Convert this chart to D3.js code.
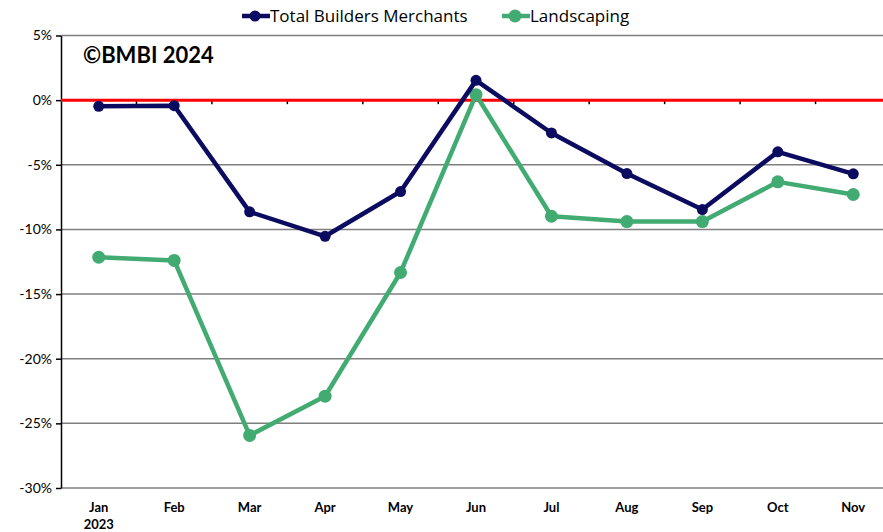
<!DOCTYPE html>
<html>
<head>
<meta charset="utf-8">
<script src="https://cdn.jsdelivr.net/npm/d3@7"></script>
<style>
  body { margin: 0; background: #fff; }
  svg { display: block; font-family: Lato, "Open Sans", sans-serif; }
</style>
</head>
<body>
<svg id="chart" width="883" height="532"></svg>
<script>
const months = ["Jan", "Feb", "Mar", "Apr", "May", "Jun", "Jul", "Aug", "Sep", "Oct", "Nov"];
const totalMerchants = [-0.48, -0.43, -8.64, -10.53, -7.07, 1.53, -2.54, -5.68, -8.46, -4.0, -5.7];
const landscaping = [-12.15, -12.4, -25.93, -22.9, -13.33, 0.42, -8.98, -9.39, -9.39, -6.32, -7.3];
const yTicks = [5, 0, -5, -10, -15, -20, -25, -30];

const margin = { top: 35.5, left: 61, bottom: 44, right: -8 };
const svgWidth = 883, svgHeight = 532;
const width = svgWidth - margin.left - margin.right,
  height = svgHeight - margin.top - margin.bottom;

const svg = d3.select("#chart");
const g = svg.append("g").attr("transform", "translate(" + margin.left + "," + margin.top + ")");

const x = d3.scaleBand().domain(months).range([0, width]);
const y = d3.scaleLinear().domain([-30, 5]).range([height, 0]);

// gridlines
g.selectAll(".grid").data(yTicks.filter(d => d !== 0)).enter().append("line")
  .attr("x1", 0).attr("x2", width)
  .attr("y1", d => y(d)).attr("y2", d => y(d))
  .attr("stroke", "#7f7f7f").attr("stroke-width", 1.5);

// y axis
const yAxis = g.append("g").call(d3.axisLeft(y).tickValues(yTicks).tickFormat(d => d + "%").tickSize(5).tickSizeOuter(0));
yAxis.select(".domain").attr("stroke", "#000").attr("stroke-width", 1.5);
yAxis.selectAll(".tick line").attr("stroke", "#000").attr("stroke-width", 1.5);
yAxis.selectAll("text").attr("font-size", 14).attr("fill", "#000").attr("x", -9)
  .attr("font-family", "Lato, sans-serif");

// x axis ticks on zero line
const bounds = months.slice(1).map(m => x(m)).concat([width]);
g.selectAll(".xtick").data(bounds).enter().append("line")
  .attr("x1", d => d).attr("x2", d => d)
  .attr("y1", y(0)).attr("y2", y(0) + 4)
  .attr("stroke", "#000").attr("stroke-width", 1.5);

// zero line
g.append("line").attr("x1", 0).attr("x2", width)
  .attr("y1", y(0)).attr("y2", y(0))
  .attr("stroke", "#ff0000").attr("stroke-width", 3);

// month labels
g.selectAll(".xl").data(months).enter().append("text")
  .attr("x", d => x(d) + x.bandwidth() / 2)
  .attr("y", height + 24)
  .attr("text-anchor", "middle")
  .attr("font-size", 13).attr("font-weight", "bold").attr("fill", "#000")
  .text(d => d);
g.append("text").attr("x", x("Jan") + x.bandwidth() / 2).attr("y", height + 41)
  .attr("text-anchor", "middle").attr("font-size", 13).attr("font-weight", "bold")
  .text("2023");

const series = [
  { name: "Total Builders Merchants", values: totalMerchants, color: "#0b0b60", r: 5.5, w: 4.5 },
  { name: "Landscaping", values: landscaping, color: "#41ab72", r: 6.5, w: 4.5 }
];

const line = d3.line().x((d, i) => x(months[i]) + x.bandwidth() / 2).y(d => y(d));

series.slice().reverse().forEach(s => {
  g.append("path").datum(s.values).attr("d", line)
    .attr("fill", "none").attr("stroke", s.color).attr("stroke-width", s.w)
    .attr("stroke-linejoin", "round");
  g.selectAll(null).data(s.values).enter().append("circle")
    .attr("cx", (d, i) => x(months[i]) + x.bandwidth() / 2)
    .attr("cy", d => y(d)).attr("r", s.r).attr("fill", s.color);
});

// watermark
g.append("text").attr("x", 22).attr("y", 27)
  .attr("font-size", 22).attr("font-weight", "bold").attr("fill", "#000")
  .text("©BMBI 2024");

// legend
const legendPos = [242, 502];
series.forEach((s, i) => {
  const lg = svg.append("g").attr("transform", "translate(" + legendPos[i] + ",16)");
  lg.append("line").attr("x1", 0).attr("x2", 28).attr("stroke", s.color).attr("stroke-width", 4.5);
  lg.append("circle").attr("cx", 13).attr("r", s.r).attr("fill", s.color);
  lg.append("text").attr("x", 28).attr("y", 6).attr("font-size", 17)
    .attr("font-family", "'Open Sans', sans-serif").attr("fill", "#000").text(s.name);
});
</script>
</body>
</html>
